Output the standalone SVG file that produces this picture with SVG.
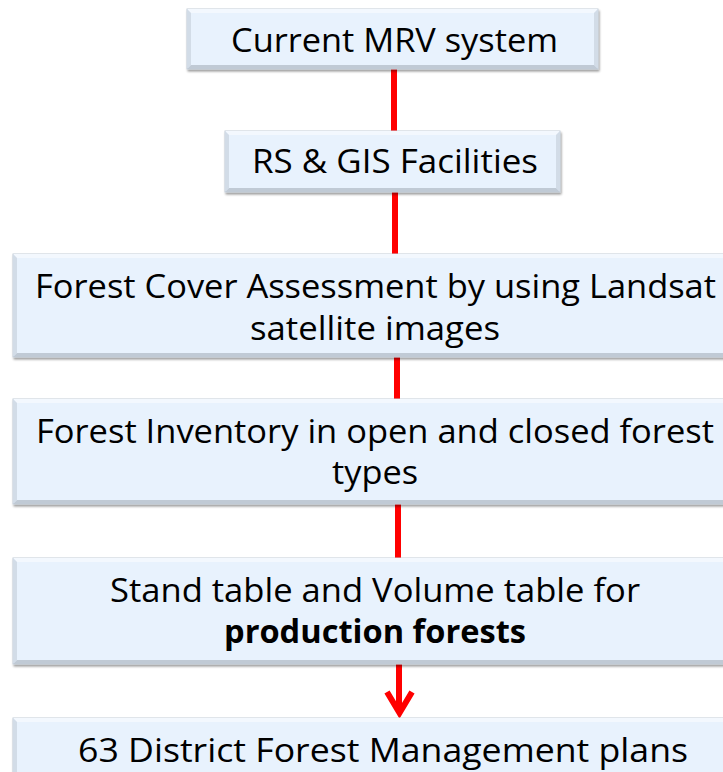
<svg xmlns="http://www.w3.org/2000/svg" width="723" height="772" viewBox="0 0 723 772">
<defs>
<filter id="sh" x="-5%" y="-10%" width="110%" height="130%">
<feGaussianBlur in="SourceAlpha" stdDeviation="1.2"/>
<feOffset dx="1" dy="1.5" result="b"/>
<feComponentTransfer><feFuncA type="linear" slope="0.4"/></feComponentTransfer>
<feMerge><feMergeNode/><feMergeNode in="SourceGraphic"/></feMerge>
</filter>
</defs>
<style>
.box{fill:#e8f2fd;stroke:#c3cdd8;stroke-width:1;filter:url(#sh)}
.bl{fill:#d2dce7}
.bb{fill:#c0cad5}
.bt{fill:#f3f8fe}
.t{font-family:"Open Sans","Liberation Sans",sans-serif;font-size:32px;fill:#000}
.b{font-weight:bold}
.c{stroke:#ff0000;stroke-width:6;fill:none}
</style>
<rect width="723" height="772" fill="#ffffff"/>
<g id="connectors">
<line class="c" x1="394" y1="69" x2="394" y2="131"/>
<line class="c" x1="395" y1="192" x2="395" y2="254"/>
<line class="c" x1="397" y1="357" x2="397" y2="399"/>
<line class="c" x1="398" y1="504" x2="398" y2="558"/>
<line class="c" x1="399" y1="664" x2="399" y2="712"/>
<path class="c" d="M387,692 L399.5,713 L412,692" stroke-linejoin="miter"/>
</g>
<g id="n1">
<rect class="box" x="187" y="9" width="411" height="60"/>
<path class="bt" d="M187,9 L598,9 L594,13 L191,13 Z"/>
<path class="bl" d="M187,9 L191,13 L191,65 L187,69 Z"/>
<path class="bl" d="M598,9 L594,13 L594,65 L598,69 Z"/>
<path class="bb" d="M187,69 L191,65 L594,65 L598,69 Z"/>
<text class="t" x="231" y="52" textLength="327" lengthAdjust="spacingAndGlyphs">Current MRV system</text>
</g>
<g id="n2">
<rect class="box" x="225" y="131" width="335" height="61"/>
<path class="bt" d="M225,131 L560,131 L556,135 L229,135 Z"/>
<path class="bl" d="M225,131 L229,135 L229,188 L225,192 Z"/>
<path class="bl" d="M560,131 L556,135 L556,188 L560,192 Z"/>
<path class="bb" d="M225,192 L229,188 L556,188 L560,192 Z"/>
<text class="t" x="252" y="173" textLength="286" lengthAdjust="spacingAndGlyphs">RS &amp; GIS Facilities</text>
</g>
<g id="n3">
<rect class="box" x="13" y="254" width="725" height="103"/>
<path class="bt" d="M13,254 L738,254 L734,258 L17,258 Z"/>
<path class="bl" d="M13,254 L17,258 L17,353 L13,357 Z"/>
<path class="bb" d="M13,357 L17,353 L734,353 L738,357 Z"/>
<text class="t" x="35" y="298" textLength="681" lengthAdjust="spacingAndGlyphs">Forest Cover Assessment by using Landsat</text>
<text class="t" x="250" y="340" textLength="250" lengthAdjust="spacingAndGlyphs">satellite images</text>
</g>
<g id="n4">
<rect class="box" x="13" y="399" width="725" height="105"/>
<path class="bt" d="M13,399 L738,399 L734,403 L17,403 Z"/>
<path class="bl" d="M13,399 L17,403 L17,500 L13,504 Z"/>
<path class="bb" d="M13,504 L17,500 L734,500 L738,504 Z"/>
<text class="t" x="36" y="443" textLength="678" lengthAdjust="spacingAndGlyphs">Forest Inventory in open and closed forest</text>
<text class="t" x="332" y="484" textLength="86" lengthAdjust="spacingAndGlyphs">types</text>
</g>
<g id="n5">
<rect class="box" x="13" y="558" width="725" height="106"/>
<path class="bt" d="M13,558 L738,558 L734,562 L17,562 Z"/>
<path class="bl" d="M13,558 L17,562 L17,660 L13,664 Z"/>
<path class="bb" d="M13,664 L17,660 L734,660 L738,664 Z"/>
<text class="t" x="110" y="602" textLength="530" lengthAdjust="spacingAndGlyphs">Stand table and Volume table for</text>
<text class="t b" x="224" y="643" textLength="302" lengthAdjust="spacingAndGlyphs">production forests</text>
</g>
<g id="n6">
<rect class="box" x="13" y="718" width="725" height="70"/>
<path class="bt" d="M13,718 L738,718 L734,722 L17,722 Z"/>
<path class="bl" d="M13,718 L17,722 L17,784 L13,788 Z"/>
<text class="t" x="78" y="762" textLength="610" lengthAdjust="spacingAndGlyphs">63 District Forest Management plans</text>
</g>
</svg>
